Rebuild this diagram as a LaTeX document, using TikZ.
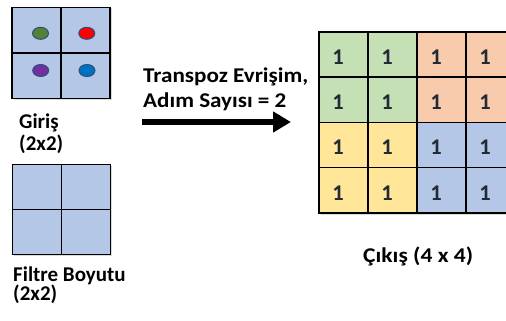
\documentclass[tikz,border=0pt]{standalone}
\usepackage{fontspec}
\setmainfont{Carlito}
\usetikzlibrary{arrows.meta,shapes.geometric}
\definecolor{cblue}{HTML}{B4C7E7}
\definecolor{cgreen}{HTML}{C5E0B4}
\definecolor{corange}{HTML}{F8CBAD}
\definecolor{cyellow}{HTML}{FFE699}
\definecolor{dgreen}{HTML}{548235}
\definecolor{dred}{HTML}{FF0000}
\definecolor{dpurple}{HTML}{7030A0}
\definecolor{dblue}{HTML}{0070C0}
\definecolor{dotline}{HTML}{2F4F7F}
\definecolor{numcol}{HTML}{222A35}
\tikzset{
  smallcell/.style={draw=black, line width=1.4pt, fill=cblue, minimum width=49pt, minimum height=45.5pt, inner sep=0pt, outer sep=0pt},
  bigcell/.style={draw=black, line width=1.4pt, fill=#1, minimum width=49pt, minimum height=45.25pt, inner sep=0pt, outer sep=0pt},
  num/.style={font=\fontsize{22.5}{22.5}\selectfont\bfseries, text=numcol},
  dot/.style={ellipse, fill=#1, draw=dotline, line width=1pt, minimum width=16pt, minimum height=12pt, inner sep=0pt},
  lbl/.style={font=\fontsize{21}{24}\selectfont\bfseries, anchor=base west, inner sep=0pt},
  shadowbox/.style={fill=black, opacity=0.15},
}
\begin{document}
\begin{tikzpicture}[x=1pt,y=-1pt]
\useasboundingbox (0,0) rectangle (506,321);
\begin{scope}
\clip (0,0) rectangle (506,321);
% shadows
\fill[shadowbox] (13.5,8.5) rectangle (111.5,100);
\fill[shadowbox] (14,165.5) rectangle (111.5,256);
\fill[shadowbox] (320.5,33.5) rectangle (520,215);
% input grid
\foreach \r/\yy in {0/30.25,1/75.75}{
  \foreach \c/\xx in {0/36.5,1/85.5}{
    \node[smallcell] (in-\r-\c) at (\xx,\yy) {};
  }
}
\node[dot=dgreen]  (d1) at (40.5,33.3) {};
\node[dot=dred]    (d2) at (86.8,33.3) {};
\node[dot=dpurple] (d3) at (40.7,70.5) {};
\node[dot=dblue]   (d4) at (87,70.5) {};
% filter grid
\foreach \r/\yy in {0/186.75,1/231.75}{
  \foreach \c/\xx in {0/37,1/86}{
    \node[smallcell, minimum height=45pt] (f-\r-\c) at (\xx,\yy) {};
  }
}
% output grid
\foreach \r/\yy in {0/54.5,1/99.75,2/145,3/190.25}{
  \foreach \c/\xx in {0/343.5,1/392.5,2/441.5,3/490.5}{
    \pgfmathtruncatemacro{\hr}{\r<2 ? 0 : 1}
    \pgfmathtruncatemacro{\hc}{\c<2 ? 0 : 1}
    \ifnum\hr=0 \ifnum\hc=0 \def\cc{cgreen}\else\def\cc{corange}\fi
    \else \ifnum\hc=0 \def\cc{cyellow}\else\def\cc{cblue}\fi\fi
    \node[bigcell=\cc] (o-\r-\c) at (\xx,\yy) {};
    \node[num] (n-\r-\c) at ([xshift=-5.5pt,yshift=-2.5pt]o-\r-\c.center) {1};
  }
}
\end{scope}
% labels
\node[lbl] (giris) at (19,128) {Giriş};
\node[lbl] (giris2) at (19,150) {(2x2)};
\node[lbl] (filtre) at (13,281) {Filtre Boyutu};
\node[lbl] (filtre2) at (13,300) {(2x2)};
\node[lbl] (t1) at (143,82) {\scalebox{1.1}[1]{Transpoz Evrişim,}};
\node[lbl] (t2) at (143,107) {\scalebox{1.1}[1]{Adım Sayısı = 2}};
\node[lbl] (cikis) at (363,262) {\scalebox{1.12}[1]{Çıkış (4 x 4)}};
% arrow
\coordinate (a1) at (142,122);
\coordinate (a2) at (291,122);
\draw[line width=6pt, -{Triangle[length=18pt,width=20pt]}] (a1) -- (a2);
\end{tikzpicture}
\end{document}
